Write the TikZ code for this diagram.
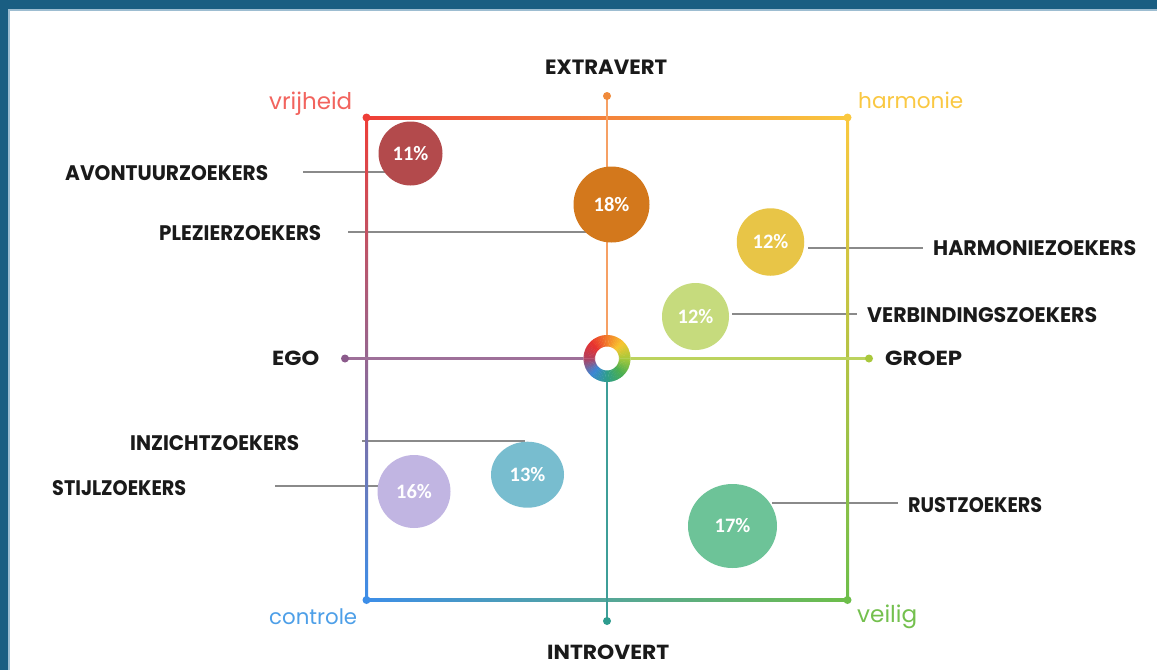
\documentclass[tikz,border=0pt]{standalone}
\usepackage{fontspec}
\setmainfont{Poppins}
\newfontfamily\pctfont{Carlito}
\usetikzlibrary{shapes.geometric,calc}
\definecolor{frameblue}{HTML}{1A5E82}
\definecolor{framelight}{HTML}{9DBDD1}
\definecolor{leadgray}{HTML}{8A8A8A}
\definecolor{labblack}{HTML}{1A1A1A}
% edge colours
\definecolor{eRed}{HTML}{EE3E38}
\definecolor{eOrange}{HTML}{F58C4C}
\definecolor{eYellow}{HTML}{FAC83E}
\definecolor{eYG}{HTML}{C2D43E}
\definecolor{eGreen}{HTML}{6DBE4A}
\definecolor{eTeal}{HTML}{4AA8A0}
\definecolor{eBlue}{HTML}{3D8EE8}
\definecolor{ePurple}{HTML}{8E5C93}
% axis colours
\definecolor{aOrange}{HTML}{F6A064}
\definecolor{aTeal}{HTML}{3E9E98}
\definecolor{aPurple}{HTML}{9E7099}
\definecolor{aGreen}{HTML}{BCD35E}
\definecolor{dOrange}{HTML}{F08A3A}
\definecolor{dTeal}{HTML}{2E9C8E}
\definecolor{dPurple}{HTML}{8B5A8B}
\definecolor{dGreen}{HTML}{A9C83C}
% bubble colours
\definecolor{bAvon}{HTML}{B34A4C}
\definecolor{bPlez}{HTML}{D3781C}
\definecolor{bHarm}{HTML}{E8C547}
\definecolor{bVerb}{HTML}{C6DB7D}
\definecolor{bStijl}{HTML}{C1B5E2}
\definecolor{bInz}{HTML}{78BDCF}
\definecolor{bRust}{HTML}{6DC398}
% corner label colours
\definecolor{tRed}{HTML}{F2645E}
\definecolor{tYellow}{HTML}{FAC842}
\definecolor{tBlue}{HTML}{4D9FE8}
\definecolor{tGreen}{HTML}{74C04E}
% ring colours (visual angles 135,90,45,0,-45,-90,-135,180)
\definecolor{r0}{HTML}{E8322F}
\definecolor{r1}{HTML}{F27A2A}
\definecolor{r2}{HTML}{F8C630}
\definecolor{r3}{HTML}{A9C93A}
\definecolor{r4}{HTML}{4CAF50}
\definecolor{r5}{HTML}{2E9E8A}
\definecolor{r6}{HTML}{3B87D6}
\definecolor{r7}{HTML}{B2405F}
\newcommand{\fitlab}[3]{\resizebox{#1pt}{#2pt}{#3}}
\newcommand{\fitw}[2]{\resizebox{#1pt}{!}{#2}}
\tikzset{
  lab/.style={inner sep=0pt, anchor=west, text=labblack, font=\bfseries},
  corner/.style={inner sep=0pt, anchor=base west},
  bub/.style={ellipse, inner sep=0pt, text=white, font=\pctfont\bfseries\fontsize{20.5}{20.5}\selectfont},
  leader/.style={draw=leadgray, line width=1.5pt},
  axisline/.style={line width=2.5pt},
  dotmark/.style={circle, inner sep=0pt, minimum size=8pt},
}
\begin{document}
\begin{tikzpicture}[x=1pt,y=-1pt]
\useasboundingbox (0,0) rectangle (1157,670);
\fill[white] (0,0) rectangle (1157,670);
% frame
\fill[framelight] (0,0) rectangle (1157,11);
\fill[framelight] (0,0) rectangle (10,670);
\fill[frameblue] (0,0) rectangle (1157,9);
\fill[frameblue] (0,0) rectangle (7.5,670);

% key coordinates
\coordinate (tl) at (366.5,117.5);
\coordinate (tr) at (847.5,117.5);
\coordinate (bl) at (366.5,600);
\coordinate (br) at (847.5,600);
\coordinate (ext) at (607,96);
\coordinate (intro) at (607,621);
\coordinate (ego) at (345,358.5);
\coordinate (grp) at (869,358.5);
\coordinate (ring) at (607,358.5);

% bubbles (positions only, drawn later)
\path (410.5,153.5) node[bub, minimum width=64pt, minimum height=64pt] (avc) {}
      (611.5,204.5) node[bub, minimum width=76pt, minimum height=76pt] (plc) {}
      (770.5,242)   node[bub, minimum width=67.5pt, minimum height=67.5pt] (hmc) {}
      (695.5,316.5) node[bub, minimum width=67pt, minimum height=67pt] (vbc) {}
      (414,491.5)   node[bub, minimum width=73pt, minimum height=73pt] (stc) {}
      (527.5,474.7) node[bub, minimum width=73pt, minimum height=66pt] (inc) {}
      (732.5,526)   node[bub, minimum width=89pt, minimum height=84pt] (rsc) {};

% labels
\node[lab] (lext) at (545,67.5) {\fitlab{122}{14.5}{EXTRAVERT}};
\node[lab] (lint) at (547,652.5) {\fitlab{122}{14.5}{INTROVERT}};
\node[lab] (lego) at (272,358.5) {\fitlab{47}{14.5}{EGO}};
\node[lab] (lgrp) at (885,358.5) {\fitlab{77}{14.5}{GROEP}};
\node[lab] (lavon) at (65,173.5) {\fitlab{203}{15}{AVONTUURZOEKERS}};
\node[lab] (lplez) at (159,233.5) {\fitlab{162}{15}{PLEZIERZOEKERS}};
\node[lab] (lharm) at (933,248.5) {\fitlab{203}{15}{HARMONIEZOEKERS}};
\node[lab] (lverb) at (867,315) {\fitlab{230}{15}{VERBINDINGSZOEKERS}};
\node[lab] (linz) at (130,443.5) {\fitlab{169}{15}{INZICHTZOEKERS}};
\node[lab] (lstijl) at (52,488) {\fitlab{134}{15}{STIJLZOEKERS}};
\node[lab] (lrust) at (908,505) {\fitlab{134}{15}{RUSTZOEKERS}};

\node[corner, text=tRed] (lvrij) at (269,109) {\fitw{83}{vrijheid}};
\node[corner, text=tYellow] (lharmo) at (858,108) {\fitw{105}{harmonie}};
\node[corner, text=tBlue] (lcontr) at (269,624) {\fitw{88}{controle}};
\node[corner, text=tGreen] (lveil) at (857,622) {\fitw{60}{veilig}};

% leader lines
\coordinate (avs) at (303,172);
\coordinate (pls) at (348,232);
\coordinate (hms) at (808,248);
\coordinate (hme) at (923,248);
\coordinate (vbs) at (732,314);
\coordinate (vbe) at (857,314);
\coordinate (ins) at (362,441);
\coordinate (ine) at (525,441);
\coordinate (sts) at (275,486);
\coordinate (rss) at (772,503);
\coordinate (rse) at (898,503);
\draw[leader] (avs) -- (avs -| avc.center);
\draw[leader] (pls) -- (pls -| plc.center);
\draw[leader] (hms) -- (hme);
\draw[leader] (vbs) -- (vbe);
\draw[leader] (ins) -- (ine);
\draw[leader] (sts) -- (sts -| stc.center);
\draw[leader] (rss) -- (rse);

% square edges with gradients
\shade[left color=eRed, middle color=eOrange, right color=eYellow] ([yshift=-1.5pt]tl) rectangle ([yshift=1.5pt]tr);
\shade[top color=eYellow, middle color=eYG, bottom color=eGreen] ([xshift=-1.5pt]tr) rectangle ([xshift=1.5pt]br);
\shade[left color=eBlue, middle color=eTeal, right color=eGreen] ([yshift=-1.5pt]bl) rectangle ([yshift=1.5pt]br);
\shade[top color=eRed, middle color=ePurple, bottom color=eBlue] ([xshift=-1.5pt]tl) rectangle ([xshift=1.5pt]bl);

% axes
\draw[axisline, aOrange] (ext) -- (ring);
\draw[axisline, aTeal] (ring) -- (intro);
\draw[axisline, aPurple] (ego) -- (ring);
\draw[axisline, aGreen] (ring) -- (grp);

% bubbles
\node[bub, fill=bAvon, minimum width=64pt, minimum height=64pt] at (avc) {11\%};
\node[bub, fill=bPlez, minimum width=76pt, minimum height=76pt] at (plc) {18\%};
\node[bub, fill=bHarm, minimum width=67.5pt, minimum height=67.5pt] at (hmc) {12\%};
\node[bub, fill=bVerb, minimum width=67pt, minimum height=67pt] at (vbc) {12\%};
\node[bub, fill=bStijl, minimum width=73pt, minimum height=73pt] at (stc) {16\%};
\node[bub, fill=bInz, minimum width=73pt, minimum height=66pt] at (inc) {13\%};
\node[bub, fill=bRust, minimum width=89pt, minimum height=84pt] at (rsc) {17\%};

% colour ring
\fill[white] (ring) circle[radius=23.5];
\foreach \i/\j [count=\n from 0] in {r0/r1,r1/r2,r2/r3,r3/r4,r4/r5,r5/r6,r6/r7,r7/r0}{
  \foreach \k in {0,...,8}{
    \pgfmathsetmacro{\ts}{-(135-45*\n-5*\k)-0.5}
    \pgfmathsetmacro{\te}{-(135-45*\n-5*\k-5)+0.5}
    \pgfmathtruncatemacro{\p}{(\k+0.5)*100/9}
    \fill[color=\j!\p!\i] ($(ring)+(\ts:23.5)$) arc[start angle=\ts, end angle=\te, radius=23.5]
       -- ($(ring)+(\te:12)$) arc[start angle=\te, end angle=\ts, radius=12] -- cycle;
  }
}

% dots
\node[dotmark, fill=eRed] at (tl) {};
\node[dotmark, fill=eYellow] at (tr) {};
\node[dotmark, fill=eBlue] at (bl) {};
\node[dotmark, fill=eGreen] at (br) {};
\node[dotmark, fill=dOrange] at (ext) {};
\node[dotmark, fill=dTeal] at (intro) {};
\node[dotmark, fill=dPurple] at (ego) {};
\node[dotmark, fill=dGreen] at (grp) {};
\end{tikzpicture}
\end{document}
